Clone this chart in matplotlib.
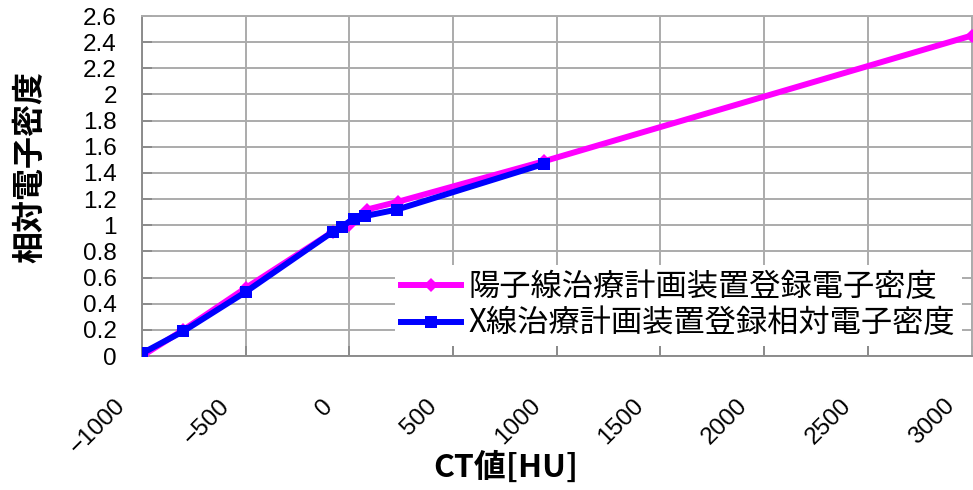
import matplotlib
matplotlib.use("Agg")
import matplotlib.pyplot as plt
import matplotlib.transforms as mtransforms
from matplotlib.ticker import FixedLocator, FuncFormatter

# CT number [HU] vs. relative electron density
ct_proton = [-1000, -800, -500, -80, 0, 85, 235, 940, 3000]
ed_proton = [0.00, 0.20, 0.52, 0.95, 1.00, 1.12, 1.18, 1.49, 2.45]

ct_xray = [-1000, -800, -500, -80, -35, 20, 75, 230, 940]
ed_xray = [0.02, 0.19, 0.49, 0.95, 0.99, 1.05, 1.07, 1.12, 1.47]

label_proton = "陽子線治療計画装置登録電子密度"
label_xray = "X線治療計画装置登録相対電子密度"

x_ticks = [-1000, -500, 0, 500, 1000, 1500, 2000, 2500, 3000]
y_ticks = [round(0.2 * i, 1) for i in range(14)]

cjk = ["Noto Sans CJK JP", "DejaVu Sans"]
num_font = ["Liberation Sans", "DejaVu Sans"]

fig = plt.figure(figsize=(9.73, 4.90), dpi=100)
ax = fig.add_axes([142 / 973, 1 - 356 / 490, 829.5 / 973, 340 / 490])

ax.plot(ct_proton, ed_proton, color="#FF00FF", lw=4.3, marker="D",
        markersize=7, markeredgewidth=0, label=label_proton, zorder=3)
ax.plot(ct_xray, ed_xray, color="#0000FF", lw=4.3, marker="s",
        markersize=8.5, markeredgewidth=0, label=label_xray, zorder=4)

ax.set_xlim(-1000, 3000)
ax.set_ylim(0, 2.6)

ax.xaxis.set_major_locator(FixedLocator(x_ticks))
ax.yaxis.set_major_locator(FixedLocator(y_ticks))
ax.yaxis.set_major_formatter(FuncFormatter(lambda v, p: f"{v:g}"))

grid_c = "#ababab"
ax.grid(True, color=grid_c, lw=1.4)
ax.set_axisbelow(True)
for side in ("top", "right"):
    ax.spines[side].set_color(grid_c)
    ax.spines[side].set_linewidth(1.4)
for side in ("left", "bottom"):
    ax.spines[side].set_color("#8c8c8c")
    ax.spines[side].set_linewidth(1.4)

ax.tick_params(axis="both", direction="in", length=7, width=1.4,
               color="#8c8c8c", labelsize=17.5)
ax.tick_params(axis="y", pad=18)
ax.tick_params(axis="x", pad=28)
for lab in ax.get_yticklabels():
    lab.set_fontfamily(num_font)
shift = mtransforms.ScaledTranslation(-12 / 100, 0, fig.dpi_scale_trans)
for lab in ax.get_xticklabels():
    lab.set_fontfamily(num_font)
    lab.set_rotation(45)
    lab.set_ha("right")
    lab.set_va("top")
    lab.set_transform(lab.get_transform() + shift)

fig.text(30 / 973, 1 - 167 / 490, "相対電子密度", rotation=90, ha="center",
         va="center", fontsize=23, fontweight="bold", family=cjk)
fig.text(506 / 973, 1 - 468 / 490, "CT値[HU]", ha="center", va="center",
         fontsize=23, fontweight="bold", family=cjk)

leg = ax.legend(loc="lower right", bbox_to_anchor=((962 - 142) / 830, 0.03),
                prop={"family": cjk, "size": 22.5}, frameon=True,
                facecolor="white", edgecolor="none", framealpha=1,
                fancybox=False, handlelength=1.9, handletextpad=0.25,
                labelspacing=0.15, borderpad=0.2, borderaxespad=0)

fig.savefig("out.png", dpi=100)
